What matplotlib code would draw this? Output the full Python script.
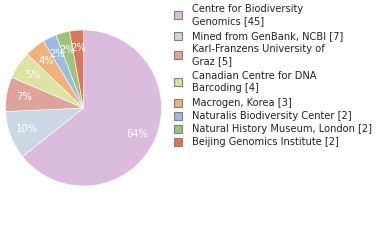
import matplotlib
matplotlib.use('Agg')
import matplotlib.pyplot as plt
from matplotlib.patches import Rectangle

labels = ['Centre for Biodiversity\nGenomics [45]', 'Mined from GenBank, NCBI [7]',
          'Karl-Franzens University of\nGraz [5]', 'Canadian Centre for DNA\nBarcoding [4]',
          'Macrogen, Korea [3]', 'Naturalis Biodiversity Center [2]',
          'Natural History Museum, London [2]', 'Beijing Genomics Institute [2]']
counts = [45, 7, 5, 4, 3, 2, 2, 2]
colors = ['#dcbcde', '#cbd8e4', '#dea49b', '#dde3a0', '#f0b27a', '#9dbbe0', '#9cc57b', '#db7659']

total = sum(counts)
W, H = 380, 240

fig = plt.figure(figsize=(W / 100, H / 100), dpi=100)

# pie: center (83,108) px from top, radius 78
cx, cy, r = 83.5, 108, 78
ax = fig.add_axes([(cx - r) / W, (H - cy - r) / H, 2 * r / W, 2 * r / H])
wedges, texts, autotexts = ax.pie(
    counts, colors=colors, startangle=90, counterclock=False,
    autopct=lambda p: '%d%%' % int(p), pctdistance=0.77,
    wedgeprops=dict(linewidth=0.4, edgecolor='white'),
    textprops=dict(color='white', fontsize=7.2))
ax.set_xlim(-1, 1)
ax.set_ylim(-1, 1)
ax.set_aspect('auto')
ax.axis('off')

# legend drawn by hand: first text line y, square center y (px from top)
line_y = [9, 36, 49, 76, 103, 116, 129, 142]
for lab, col, y in zip(labels, colors, line_y):
    lines = lab.split('\n')
    sq = y + 6 * (len(lines) - 1)
    fig.patches.append(Rectangle((174 / W, (H - sq - 4) / H), 8 / W, 8 / H,
                                 transform=fig.transFigure, facecolor=col,
                                 edgecolor='#808080', linewidth=0.8))
    for i, ln in enumerate(lines):
        fig.text(192 / W, (H - y - 12 * i) / H, ln, fontsize=7.1, color='#222222',
                 va='center', ha='left')

plt.savefig('out.png', dpi=100)
